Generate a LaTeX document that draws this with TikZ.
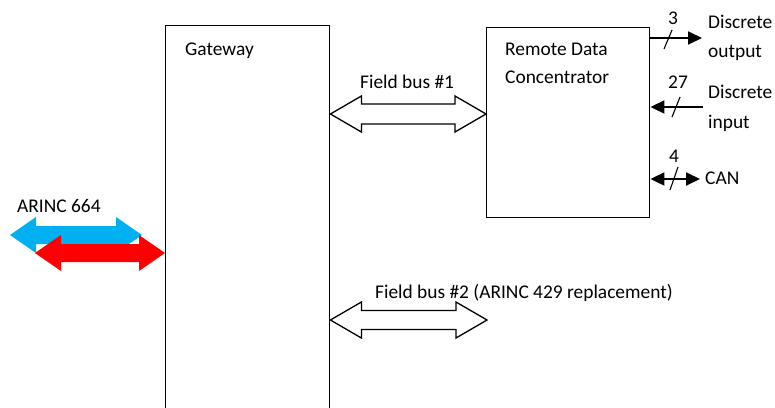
\documentclass[tikz,border=0pt]{standalone}
\usepackage{fontspec}
\setmainfont{Carlito}
\usetikzlibrary{calc,arrows.meta}

\definecolor{afdxblue}{RGB}{0,176,240}
\definecolor{afdxred}{RGB}{255,0,0}

% Block double arrow between two points:
% #1 style, #2 start, #3 end, #4 head length, #5 head half-width, #6 shaft half-width
\newcommand\fatarrow[6]{%
  \path[#1] let \p1=(#2), \p2=(#3) in
    (\x1,\y1) -- (\x1+#4,\y1+#5) -- (\x1+#4,\y1+#6) -- (\x2-#4,\y2+#6)
    -- (\x2-#4,\y2+#5) -- (\x2,\y2) -- (\x2-#4,\y2-#5) -- (\x2-#4,\y2-#6)
    -- (\x1+#4,\y1-#6) -- (\x1+#4,\y1-#5) -- cycle;}

\begin{document}
\begin{tikzpicture}[x=1pt,y=-1pt,
  lbl/.style={font=\fontsize{19.4}{23}\selectfont, inner sep=0pt, anchor=base west},
  blk/.style={draw=black, line width=1.4pt, fill=white, inner sep=0pt, anchor=north west},
  sig/.style={draw=black, line width=1.8pt},
  tip/.style={-{Triangle[length=14pt,width=13pt]}},
  bothtips/.style={{Triangle[length=14pt,width=13pt]}-{Triangle[length=14pt,width=13pt]}},
  slash/.style={draw=black, line width=1.1pt},
  busarrow/.style={draw=black, line width=1.3pt, fill=white},
]
\useasboundingbox (0,0) rectangle (775,407);
\clip (0,0) rectangle (775,407);

% boxes
\node[blk, minimum width=164pt, minimum height=420pt] (gw) at (165,25) {};
\node[blk, minimum width=163pt, minimum height=190pt] (rdc) at (486,27) {};

\node[lbl] (gwlbl) at (185,55) {Gateway};
\node[lbl] (rdclbl1) at (505,55) {Remote Data};
\node[lbl] (rdclbl2) at (505,83) {Concentrator};

% field buses between gateway and remote data concentrator
\coordinate (fbA1) at ($(gw.east |- 0,114)$);
\coordinate (fbA2) at ($(rdc.west |- 0,114)$);
\fatarrow{busarrow}{fbA1}{fbA2}{31pt}{18pt}{10pt}
\node[lbl] (fb1lbl) at (360,88) {Field bus \#1};

\coordinate (fbB1) at ($(gw.east |- 0,320)$);
\coordinate (fbB2) at (487,320);
\fatarrow{busarrow}{fbB1}{fbB2}{31pt}{18pt}{9.5pt}
\node[lbl] (fb2lbl) at (375,298) {Field bus \#2 (ARINC 429 replacement)};

% ARINC 664 redundant networks
\coordinate (netA1) at (10,235);
\coordinate (netA2) at (142,235);
\fatarrow{fill=afdxblue}{netA1}{netA2}{26pt}{18pt}{9pt}
\coordinate (netB1) at (35,253);
\coordinate (netB2) at ($(gw.west |- 0,253)$);
\fatarrow{fill=afdxred}{netB1}{netB2}{26pt}{18pt}{9pt}
\node[lbl] (afdxlbl) at (17,212) {ARINC 664};

% discrete and CAN interfaces of the concentrator
\coordinate (dout) at (702,38);
\draw[sig, tip] (rdc.east |- dout) -- (dout);
\draw[slash] (664,49) -- (672,30);
\node[lbl] (doutn) at (668,24) {3};
\node[lbl] (doutl1) at (708,28) {Discrete};
\node[lbl] (doutl2) at (708,57) {output};

\coordinate (din) at (703,107);
\draw[sig, tip] (din) -- (rdc.east |- din);
\draw[slash] (672,117) -- (680,97);
\node[lbl] (dinn) at (668,88) {27};
\node[lbl] (dinl1) at (708,98) {Discrete};
\node[lbl] (dinl2) at (708,128) {input};

\coordinate (can) at (700,179);
\draw[sig, bothtips] (rdc.east |- can) -- (can);
\draw[slash] (670,190) -- (678,167);
\node[lbl] (cann) at (669,162) {4};
\node[lbl] (canl) at (705,184) {CAN};
\end{tikzpicture}
\end{document}
